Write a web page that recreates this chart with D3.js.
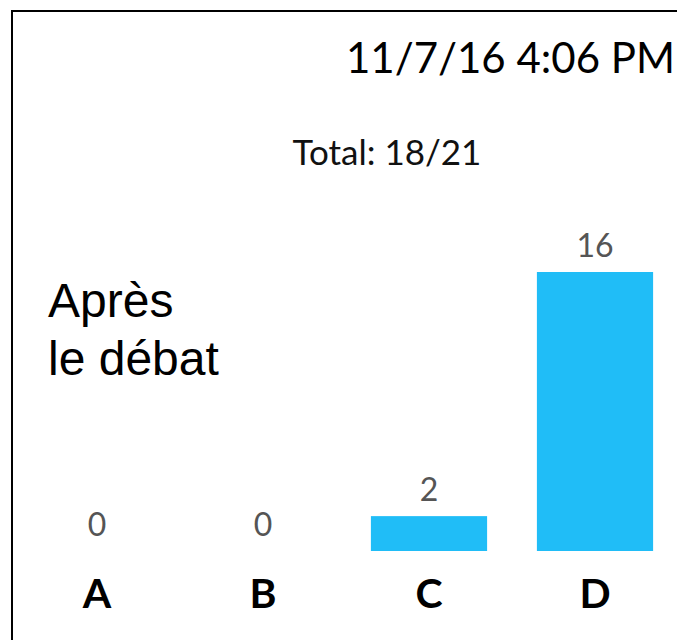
<!DOCTYPE html>
<html>
<head>
<meta charset="utf-8">
<script src="https://cdn.jsdelivr.net/npm/d3@7"></script>
<style>
	body { margin: 0; background: #fff; }
	svg { display: block; }
</style>
</head>
<body>
<div id="chart"></div>
<script>
// Data
const categories = ["A", "B", "C", "D"];
const votes = [0, 0, 2, 16];
const answered = 18, enrolled = 21;
const stamp = "11/7/16 4:06 PM";
const caption = ["Après", "le débat"];

const width = 677, height = 640;
const baseY = 551, topY = 272;

const svg = d3.select("#chart").append("svg")
	.attr("width", width).attr("height", height);

// frame (only top and left edges fall inside the picture)
svg.append("rect")
	.attr("x", 12).attr("y", 11)
	.attr("width", 700).attr("height", 700)
	.attr("fill", "none").attr("stroke", "#000").attr("stroke-width", 2);

// Scales
const x = d3.scaleBand(categories, [14, 678]).paddingInner(0.3).paddingOuter(0.15);
const y = d3.scaleLinear([0, d3.max(votes)], [baseY, topY]);

const data = categories.map((c, i) => [c, votes[i]]);

// Bars
svg.append("g").selectAll("rect.bar")
	.data(data.filter(d => d[1] > 0))
	.join("rect")
	.classed("bar", true)
	.attr("x", d => x(d[0]))
	.attr("y", d => y(d[1]))
	.attr("width", x.bandwidth())
	.attr("height", d => baseY - y(d[1]))
	.attr("fill", "#20bdf7");

// Value labels
svg.append("g").selectAll("text")
	.data(data)
	.join("text")
	.attr("x", d => x(d[0]) + x.bandwidth() / 2)
	.attr("y", d => y(d[1]) - 15)
	.attr("text-anchor", "middle")
	.style("font-family", "Lato, sans-serif")
	.style("font-size", "32px")
	.attr("fill", "#555")
	.text(d => d[1]);

// Category axis
const axis = svg.append("g")
	.attr("transform", `translate(0, ${baseY})`)
	.call(d3.axisBottom(x).tickSize(0));
axis.select(".domain").remove();
axis.selectAll("text")
	.attr("dy", null).attr("y", 57)
	.style("font-family", "Lato, sans-serif")
	.style("font-weight", "bold")
	.style("font-size", "41px")
	.attr("fill", "#000");

// Header texts
svg.append("text")
	.attr("x", 675).attr("y", 73)
	.attr("text-anchor", "end")
	.style("font-family", "Lato, sans-serif")
	.style("font-size", "42px")
	.text(stamp);

svg.append("text")
	.attr("x", 387).attr("y", 165)
	.attr("text-anchor", "middle")
	.style("font-family", "Lato, sans-serif")
	.style("font-size", "35px")
	.attr("fill", "#111")
	.text(`Total: ${answered}/${enrolled}`);

svg.append("text")
	.style("font-family", "'Liberation Sans', Arial, sans-serif")
	.style("font-size", "48px")
	.selectAll("tspan")
	.data(caption)
	.join("tspan")
	.attr("x", 48)
	.attr("y", (d, i) => 317 + i * 58)
	.text(d => d);
</script>
</body>
</html>
